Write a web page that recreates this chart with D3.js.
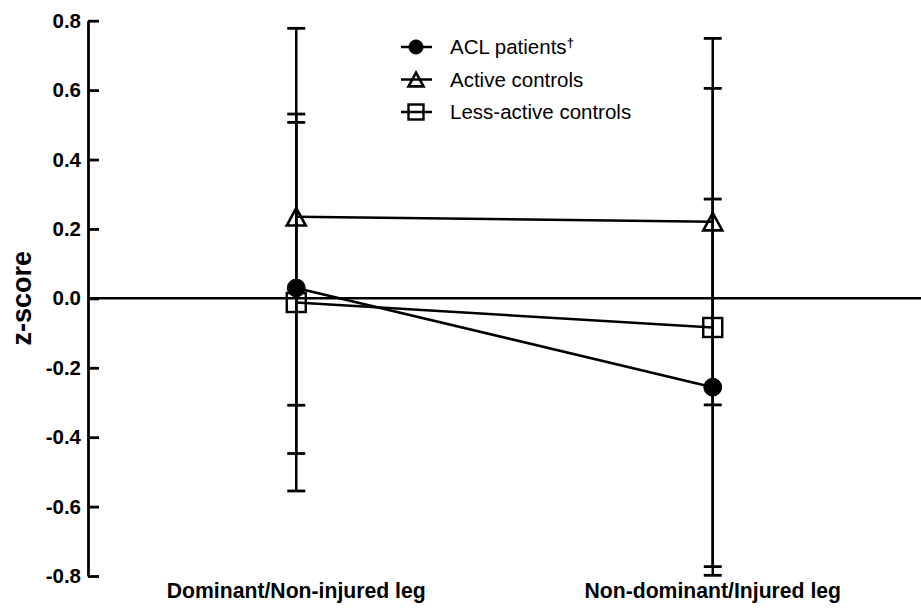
<!DOCTYPE html>
<html>
<head>
<meta charset="utf-8">
<script src="https://cdn.jsdelivr.net/npm/d3@7"></script>
<style>
  html, body { margin: 0; padding: 0; background: #fff; }
  svg { display: block; font-family: "Liberation Sans", Arial, Helvetica, sans-serif; }
</style>
</head>
<body>
<svg id="chart" width="921" height="611"></svg>
<script>
// ---- data ----
const categories = ["Dominant/Non-injured leg", "Non-dominant/Injured leg"];
const seriesNames = ["ACL patients", "Active controls", "Less-active controls"];
const aclMean = [0.03, -0.256];
const aclSD = [0.477, 0.542];
const activeMean = [0.235, 0.221];
const activeSD = [0.543, 0.528];
const lessMean = [-0.012, -0.084];
const lessSD = [0.543, 0.689];
const yTicks = [-0.8, -0.6, -0.4, -0.2, 0.0, 0.2, 0.4, 0.6, 0.8];
const yLabel = "z-score";

const series = [
  { name: seriesNames[0], mean: aclMean, sd: aclSD, symbol: "circle" },
  { name: seriesNames[1], mean: activeMean, sd: activeSD, symbol: "triangle" },
  { name: seriesNames[2], mean: lessMean, sd: lessSD, symbol: "square" }
];

const svg = d3.select("#chart");
const axisX = 88;
const x = d3.scalePoint().domain(categories).range([axisX, 921]).padding(0.5);
const y = d3.scaleLinear().domain([-0.8, 0.8]).range([576, 20.7]);

const fmt = d => d3.format(".1f")(d).replace("\u2212", "-");
const SW = 2.5;

// y axis
const yAxis = svg.append("g")
  .attr("transform", `translate(${axisX},0)`)
  .call(d3.axisLeft(y).tickValues(yTicks).tickFormat(fmt).tickSizeInner(-11).tickSizeOuter(0).tickPadding(7));
yAxis.select(".domain").attr("stroke", "#000").attr("stroke-width", 2.8);
yAxis.selectAll(".tick line").attr("stroke", "#000").attr("stroke-width", 2.8);
yAxis.selectAll(".tick text")
  .attr("font-family", "'Liberation Sans', Arial, sans-serif")
  .attr("font-size", 20.5).attr("font-weight", "bold").attr("fill", "#000");

// zero line
svg.append("line")
  .attr("x1", axisX).attr("x2", 921)
  .attr("y1", y(0)).attr("y2", y(0))
  .attr("stroke", "#000").attr("stroke-width", SW);

// y label
svg.append("text")
  .attr("transform", `translate(31,${y(0)}) rotate(-90)`)
  .attr("text-anchor", "middle")
  .attr("font-size", 27).attr("font-weight", "bold")
  .text(yLabel);

// x labels
svg.selectAll(".xlab").data(categories).enter().append("text")
  .attr("x", d => x(d)).attr("y", 598)
  .attr("text-anchor", "middle")
  .attr("font-size", 21.2).attr("font-weight", "bold")
  .text(d => d);

function drawSymbol(g, type, cx, cy, s) {
  if (type === "circle") {
    g.append("circle").attr("cx", cx).attr("cy", cy).attr("r", s * 0.47)
      .attr("fill", "#000").attr("stroke", "#000").attr("stroke-width", 1);
  } else if (type === "triangle") {
    const w = s, h = s * 0.92;
    g.append("path")
      .attr("d", `M${cx},${cy - h / 2} L${cx + w / 2},${cy + h / 2} L${cx - w / 2},${cy + h / 2} Z`)
      .attr("fill", "none").attr("stroke", "#000").attr("stroke-width", 2.6).attr("stroke-linejoin", "miter");
  } else {
    g.append("rect").attr("x", cx - s / 2).attr("y", cy - s / 2).attr("width", s).attr("height", s)
      .attr("fill", "none").attr("stroke", "#000").attr("stroke-width", 2.4);
  }
}

// connecting lines
const line = d3.line().x((d, i) => x(categories[i])).y(d => y(d));
series.forEach(s => {
  svg.append("path").attr("d", line(s.mean))
    .attr("fill", "none").attr("stroke", "#000").attr("stroke-width", SW);
});

// error bars
const capW = 18;
series.forEach(s => {
  s.mean.forEach((m, i) => {
    const cx = x(categories[i]);
    const top = y(m + s.sd[i]), bot = y(m - s.sd[i]);
    svg.append("line").attr("x1", cx).attr("x2", cx).attr("y1", top).attr("y2", bot)
      .attr("stroke", "#000").attr("stroke-width", SW);
    [top, bot].forEach(yy => {
      svg.append("line").attr("x1", cx - capW / 2).attr("x2", cx + capW / 2)
        .attr("y1", yy).attr("y2", yy).attr("stroke", "#000").attr("stroke-width", 2.8);
    });
  });
});

// markers
const markers = svg.append("g");
series.forEach(s => {
  s.mean.forEach((m, i) => {
    drawSymbol(markers, s.symbol, x(categories[i]), y(m), 19);
  });
});

// legend
const legend = svg.append("g");
const legRowY = [47, 79.5, 112];
series.forEach((s, i) => {
  const cy = legRowY[i];
  legend.append("line").attr("x1", 401).attr("x2", 432).attr("y1", cy).attr("y2", cy)
    .attr("stroke", "#000").attr("stroke-width", SW);
  drawSymbol(legend, s.symbol, 416, cy, 15);
  const t = legend.append("text").attr("x", 450).attr("y", cy + 7)
    .attr("font-size", 20.5).text(s.name);
  if (i === 0) {
    t.append("tspan").attr("dy", -7).attr("font-size", 13).attr("font-weight", "bold").text("\u2020");
  }
});
</script>
</body>
</html>
